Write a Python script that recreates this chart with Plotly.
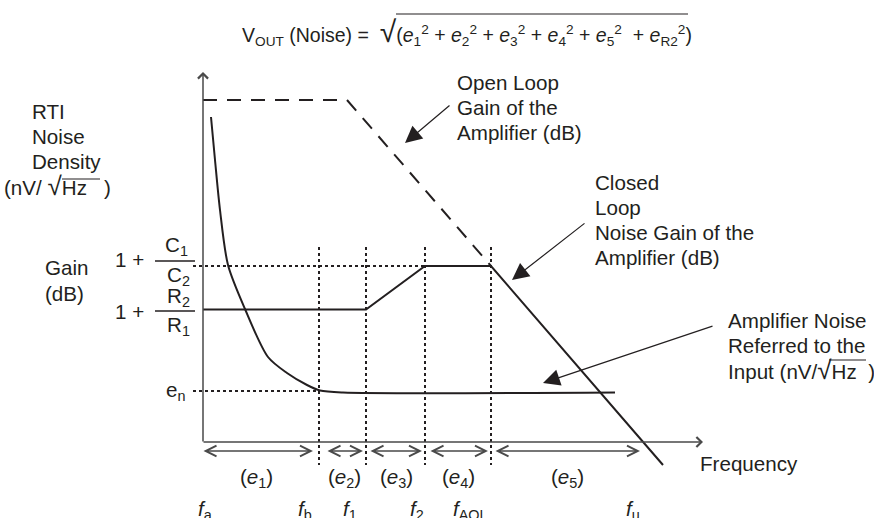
import plotly.graph_objects as go

FONT = "Liberation Sans, Arial, Helvetica, sans-serif"
INK = "#231f20"
AXIS = "#4a4a4a"

# ---------------- schematic data (x = log frequency, y = level) ----------------
f_names = ["a", "b", "1", "2", "AOL", "u"]
f_label_x = [2, 102, 147, 214, 267, 430]
f_marks_x = [116, 163, 222, 288]          # f_b, f_1, f_2, f_AOL
gain_c = 176                              # 1 + C1/C2
gain_r = 132.5                            # 1 + R2/R1
en_level = 51

cl_x = [0, 163, 222, 288, 460]            # closed loop noise gain
cl_y = [132.5, 132.5, 176, 176, -23]

ol_x = [0, 144, 288]                      # open loop gain
ol_y = [342, 342, 176]

noise_x = [8, 12, 17, 25, 42, 65, 84, 104, 117, 140, 412]   # RTI noise density
noise_y = [325, 282, 232, 177, 133, 85, 69, 57, 51.5, 49.5, 49.5]

band_names = ["1", "2", "3", "4", "5"]
band_start = [0, 124, 167, 227, 292]
band_end = [110, 160, 219, 285, 437]
band_label_x = [53, 141, 193, 255, 364]

x_axis_end = 500
y_axis_end = 370
dot_top, dot_bottom = 195, -23
band_y = -9

SZ = 20.6
RAD = "<span style='font-size:26px'>√</span>"

fig = go.Figure()

# open loop gain (dashed)
fig.add_trace(go.Scatter(x=ol_x, y=ol_y, mode="lines",
                         line=dict(color=INK, width=2, dash="14px,10px")))
# closed loop noise gain
fig.add_trace(go.Scatter(x=cl_x, y=cl_y, mode="lines",
                         line=dict(color=INK, width=2)))
# noise density
fig.add_trace(go.Scatter(x=noise_x, y=noise_y, mode="lines",
                         line=dict(color=INK, width=2, shape="spline", smoothing=0.8)))

# dotted guides
vx, vy = [], []
for fx in f_marks_x:
    vx += [fx, fx, None]
    vy += [dot_top, dot_bottom, None]
hx = [-10, f_marks_x[-1], None, -10, f_marks_x[0]]
hy = [gain_c, gain_c, None, en_level, en_level]
fig.add_trace(go.Scatter(x=vx + [None] + hx, y=vy + [None] + hy, mode="lines",
                         line=dict(color=INK, width=2, dash="3px,3px")))

# fraction bars
fig.add_trace(go.Scatter(x=[-48, -8, None, -48, -8], y=[181, 181, None, 131, 131],
                         mode="lines", line=dict(color=INK, width=1.5)))


def txt(x, y, s, size=SZ, xanchor="left"):
    fig.add_annotation(x=x, y=y, xref="x", yref="y", text=s, showarrow=False,
                       xanchor=xanchor, yanchor="middle",
                       font=dict(family=FONT, size=size, color=INK))


def arrow(x, y, ax, ay, head=2, size=2.5, width=1.2, color=INK, both=False):
    kw = {}
    if both:
        kw = dict(arrowside="end+start", startarrowhead=head, startarrowsize=size)
    fig.add_annotation(x=x, y=y, ax=ax, ay=ay, xref="x", yref="y", axref="x", ayref="y",
                       text="", showarrow=True, arrowhead=head, arrowsize=size,
                       arrowwidth=width, arrowcolor=color, borderpad=0, standoff=0, **kw)


# axes
arrow(0, y_axis_end, 0, 0, head=4, size=1.3, width=1.5, color=AXIS)
arrow(x_axis_end, 0, 0, 0, head=4, size=1.3, width=1.5, color=AXIS)

# bands
for s, e, lx, n in zip(band_start, band_end, band_label_x, band_names):
    arrow(e, band_y, s, band_y, head=5, size=1.5, width=1.4, color=AXIS, both=True)
    txt(lx, -36, f"(<i>e</i><sub>{n}</sub>)", xanchor="center")

for fx, n in zip(f_label_x, f_names):
    txt(fx, -68, f"<i>f</i><sub>{n}</sub>", xanchor="center")

# pointer arrows
arrow(202, 299, 247, 337, size=2.8)
arrow(309, 162, 382, 219, size=2.8)
arrow(340, 59, 510, 116, size=2.8)

# level labels
txt(-74, 183, "1 +", xanchor="center")
txt(-27, 196, "C<sub>1</sub>", xanchor="center")
txt(-25, 166, "C<sub>2</sub>", xanchor="center")
txt(-74, 131, "1 +", xanchor="center")
txt(-25, 145, "R<sub>2</sub>", xanchor="center")
txt(-25, 116, "R<sub>1</sub>", xanchor="center")
txt(-28, 51, "e<sub>n</sub>", xanchor="center")

txt(-160, 175, "Gain")
txt(-160, 149, "(dB)")

for i, s in enumerate(["RTI", "Noise", "Density"]):
    txt(-173, 331 - 25 * i, s)
txt(-201, 256, f"(nV/ {RAD}Hz   )")

for i, s in enumerate(["Open Loop", "Gain of the", "Amplifier (dB)"]):
    txt(252, 360 - 25 * i, s)
for i, s in enumerate(["Closed", "Loop", "Noise Gain of the", "Amplifier (dB)"]):
    txt(390, 260 - 25 * i, s)
for i, s in enumerate(["Amplifier Noise", "Referred to the", f"Input (nV/{RAD}Hz  )"]):
    txt(523, 122 - 25 * i, s)
txt(495, -21, "Frequency")

title = ("V<sub>OUT</sub> (Noise) =  <span style='font-size:30px'>√</span>(<i>e</i><sub>1</sub><sup>2</sup> + "
         "<i>e</i><sub>2</sub><sup>2</sup> + <i>e</i><sub>3</sub><sup>2</sup> + "
         "<i>e</i><sub>4</sub><sup>2</sup> + <i>e</i><sub>5</sub><sup>2</sup>  + "
         "<i>e</i><sub>R2</sub><sup>2</sup>)")
txt(37, 410, title, size=19.5)

# overlines for radicals
for x0, x1, yy in [(193, 485, 428), (-141, -103, 263), (626, 663, 82)]:
    fig.add_shape(type="line", x0=x0, x1=x1, y0=yy, y1=yy, xref="x", yref="y",
                  line=dict(color=INK, width=1.2))

fig.update_layout(width=874, height=518, margin=dict(l=0, r=0, t=0, b=0),
                  paper_bgcolor="white", plot_bgcolor="white", showlegend=False,
                  xaxis=dict(range=[-203, 671], visible=False, fixedrange=True),
                  yaxis=dict(range=[-76, 442], visible=False, fixedrange=True))

fig.write_html("out.html", config={"displayModeBar": False},
               post_script="document.body.style.margin='0';")
